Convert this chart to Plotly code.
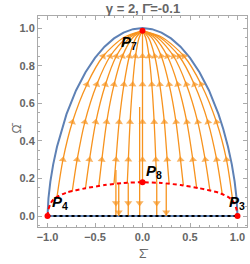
import plotly.graph_objects as go

# ---------------- data ----------------
# boundary (blue)
boundary_sigma = [-1, -0.998, -0.99, -0.97, -0.94, -0.9, -0.85, -0.8, -0.7, -0.6, -0.5, -0.4, -0.3, -0.2, -0.1, 0,
                  0.1, 0.2, 0.3, 0.4, 0.5, 0.6, 0.7, 0.8, 0.85, 0.9, 0.94, 0.97, 0.99, 0.998, 1]
boundary_omega = [0, 0.036, 0.095, 0.183, 0.275, 0.369, 0.463, 0.542, 0.668, 0.765, 0.841, 0.901, 0.945, 0.976, 0.994, 1,
                  0.994, 0.976, 0.945, 0.901, 0.841, 0.765, 0.668, 0.542, 0.463, 0.369, 0.275, 0.183, 0.095, 0.036, 0]

# red separatrix
red_sigma = [-1, -0.99, -0.97, -0.94, -0.9, -0.8, -0.6, -0.4, -0.2, 0, 0.2, 0.4, 0.6, 0.8, 0.9, 0.94, 0.97, 0.99, 1]
red_omega = [0, 0.035, 0.065, 0.087, 0.102, 0.125, 0.148, 0.165, 0.176, 0.18, 0.176, 0.165, 0.148, 0.125, 0.102, 0.087, 0.065, 0.035, 0]

# bottom line (black dashed)
bottom_sigma = [-1, 1]
bottom_omega = [0, 0]

# upper streamlines (towards P7)
up_omega_levels = [0.3, 0.5, 0.7, 0.85, 0.95, 0.985]
up_lines = [
    ([-0.9, -0.837, -0.738, -0.585, -0.414, -0.198, 0], 0.102),
    ([-0.74, -0.688, -0.607, -0.481, -0.34, -0.163, 0], 0.13),
    ([-0.6, -0.558, -0.492, -0.39, -0.276, -0.132, 0], 0.148),
    ([-0.46, -0.428, -0.377, -0.299, -0.212, -0.101, 0], 0.161),
    ([-0.3, -0.279, -0.246, -0.195, -0.138, -0.066, 0], 0.172),
    ([-0.16, -0.149, -0.131, -0.104, -0.074, -0.035, 0], 0.177),
    ([0, 0, 0, 0, 0, 0, 0], 0.18),
    ([0.15, 0.14, 0.123, 0.098, 0.069, 0.033, 0], 0.177),
    ([0.28, 0.26, 0.23, 0.182, 0.129, 0.062, 0], 0.173),
    ([0.43, 0.4, 0.353, 0.28, 0.198, 0.095, 0], 0.163),
    ([0.57, 0.53, 0.467, 0.371, 0.262, 0.125, 0], 0.15),
    ([0.71, 0.66, 0.582, 0.462, 0.327, 0.156, 0], 0.136),
    ([0.84, 0.781, 0.689, 0.546, 0.386, 0.185, 0], 0.115),
    ([0.95, 0.884, 0.779, 0.618, 0.437, 0.209, 0], 0.08),
]

# lower streamlines (towards Omega = 0)
down_lines = [
    ([-0.28, -0.28, -0.28, -0.28], [0.245, 0.172, 0.07, 0.0]),
    ([-0.25, -0.25, -0.25, -0.25], [0.17, 0.12, 0.02, 0.0]),
    ([-0.15, -0.15, -0.15, -0.15], [0.177, 0.12, 0.07, 0.0]),
    ([-0.03, -0.03, -0.03, -0.03], [0.58, 0.3, 0.07, 0.0]),
    ([0.15, 0.15, 0.15, 0.15], [0.177, 0.12, 0.07, 0.0]),
    ([0.25, 0.25, 0.25, 0.25], [0.173, 0.12, 0.02, 0.0]),
]

# fixed points
pt_sigma = [0, 0, -1, 1]
pt_omega = [0.985, 0.18, 0, 0]
pt_names = ["7", "8", "4", "3"]
lbl_sigma = [-0.14, 0.12, -0.87, 0.99]
lbl_omega = [0.925, 0.235, 0.07, 0.07]

title_text = "γ = 2, Γ̄=-0.1"
x_title = "Σ̄"
y_title = "Ω̄"

ORANGE = "#F7931E"
BLUE = "#5E81B5"
GRAY = "#666666"
FRAME = "#AAAAAA"

fig = go.Figure()

# boundary
fig.add_trace(go.Scatter(x=boundary_sigma + bottom_sigma[::-1], y=boundary_omega + bottom_omega,
                         mode="lines", line=dict(color=BLUE, width=2),
                         hoverinfo="skip"))

def add_stream(xs, ys, arrow_idx):
    sizes = [7 if i in arrow_idx else 0 for i in range(len(xs))]
    fig.add_trace(go.Scatter(x=xs, y=ys, mode="lines+markers",
                             line=dict(color=ORANGE, width=1.3, shape="spline", smoothing=0.8),
                             marker=dict(symbol="triangle-up", size=sizes, color=ORANGE,
                                         angleref="previous", line=dict(width=0)),
                             hoverinfo="skip"))

for xs, start in up_lines:
    add_stream(xs, [start] + up_omega_levels, {1, 2, 3, 4})
for xs, ys in down_lines:
    add_stream(xs, ys, {2})

# red separatrix
fig.add_trace(go.Scatter(x=red_sigma, y=red_omega, mode="lines",
                         line=dict(color="#FF0000", width=2, dash="4px,3px", shape="spline", smoothing=0.6),
                         hoverinfo="skip"))
# bottom dashed black
fig.add_trace(go.Scatter(x=bottom_sigma, y=bottom_omega, mode="lines",
                         line=dict(color="black", width=2, dash="3px,3px"), hoverinfo="skip"))
# points
fig.add_trace(go.Scatter(x=pt_sigma, y=pt_omega, mode="markers",
                         marker=dict(color="#FF0000", size=6), hoverinfo="skip"))

for sx, sy, n in zip(lbl_sigma, lbl_omega, pt_names):
    fig.add_annotation(x=sx, y=sy, text="<b><i>P</i></b><sub><b>" + n + "</b></sub>", showarrow=False,
                       font=dict(family="Liberation Sans", size=15, color="black"))

# axis titles placed as annotations (paper coordinates)
fig.add_annotation(xref="paper", yref="paper", x=-0.145, y=0.47, text=y_title, textangle=-90,
                   showarrow=False, font=dict(family="Liberation Sans", size=12, color=GRAY))
fig.add_annotation(xref="paper", yref="paper", x=0.505, y=-0.128, text=x_title, yanchor="middle",
                   showarrow=False, font=dict(family="Liberation Sans", size=12, color=GRAY))

axis_common = dict(showgrid=False, zeroline=False, showline=True, linecolor=FRAME, linewidth=1,
                   mirror="allticks", ticks="inside", ticklen=4, tickcolor=FRAME, automargin=False,
                   tickfont=dict(family="Liberation Sans", size=11, color=GRAY, weight="bold"),
                   tickformat=".1f")

fig.update_layout(
    width=250, height=264, showlegend=False,
    paper_bgcolor="white", plot_bgcolor="white",
    margin=dict(l=38, r=3, t=16, b=37),
    title=dict(text=title_text, x=0.572, xanchor="center", y=0.985, yanchor="top",
               font=dict(family="Liberation Sans", size=13, color=GRAY, weight="bold")),
    xaxis=dict(range=[-1.1, 1.1], tickvals=[-1, -0.5, 0, 0.5, 1],
               minor=dict(ticks="inside", ticklen=2, dtick=0.1, tickcolor=FRAME),
               **axis_common),
    yaxis=dict(range=[-0.058, 1.064], tickvals=[0, 0.2, 0.4, 0.6, 0.8, 1.0],
               minor=dict(ticks="inside", ticklen=2, dtick=0.05, tickcolor=FRAME),
               **axis_common),
)

fig.write_html("out.html", config={"displayModeBar": False},
               post_script="document.body.style.margin='0px';document.body.style.overflow='hidden';")
